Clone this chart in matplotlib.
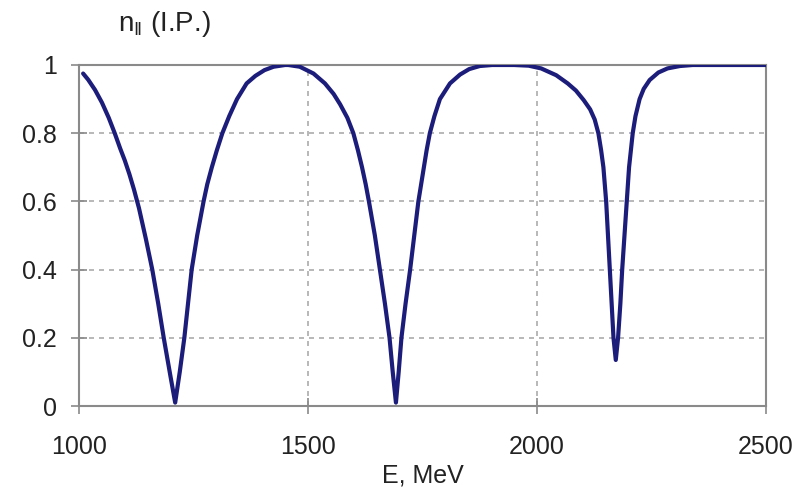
import matplotlib
matplotlib.use("Agg")
import matplotlib.pyplot as plt

plt.rcParams['font.family'] = ['Liberation Sans', 'DejaVu Sans']
plt.rcParams['mathtext.fontset'] = 'custom'
plt.rcParams['mathtext.rm'] = 'Liberation Sans'
plt.rcParams['mathtext.it'] = 'Liberation Sans'

energy = [1009, 1020, 1035, 1050, 1065, 1078, 1090, 1100, 1110, 1120, 1131,
          1146, 1160, 1173, 1185, 1200, 1210,
          1220, 1230, 1238, 1246, 1258, 1272, 1280, 1290, 1301, 1313, 1328,
          1345, 1366, 1385, 1405, 1425, 1450,
          1457, 1482, 1512, 1537, 1556, 1570, 1586, 1599, 1609, 1618, 1626,
          1633, 1646, 1657, 1668, 1678, 1685, 1692,
          1698, 1704, 1713, 1723, 1732, 1741, 1747, 1753, 1759, 1766, 1776,
          1788, 1810, 1832, 1852, 1875, 1902,
          1950, 1982, 2009, 2042, 2067, 2085, 2102, 2116, 2126, 2134, 2140,
          2145, 2148, 2151, 2155, 2159, 2163, 2167, 2172,
          2177, 2182, 2186, 2191, 2196, 2201, 2205, 2209, 2215, 2224, 2233,
          2246, 2265, 2285, 2312, 2340, 2500]
n_par = [0.975, 0.957, 0.927, 0.89, 0.845, 0.80, 0.755, 0.72, 0.68, 0.635, 0.58,
         0.49, 0.40, 0.30, 0.20, 0.085, 0.01,
         0.10, 0.20, 0.30, 0.40, 0.50, 0.60, 0.65, 0.70, 0.75, 0.80, 0.85,
         0.90, 0.946, 0.968, 0.985, 0.995, 1.0,
         1.0, 0.995, 0.975, 0.946, 0.915, 0.885, 0.845, 0.80, 0.75, 0.70, 0.65,
         0.60, 0.50, 0.40, 0.30, 0.20, 0.10, 0.01,
         0.10, 0.20, 0.30, 0.40, 0.50, 0.60, 0.65, 0.70, 0.75, 0.80, 0.85,
         0.90, 0.946, 0.972, 0.988, 0.997, 1.0,
         1.0, 0.998, 0.99, 0.97, 0.946, 0.925, 0.897, 0.87, 0.84, 0.80, 0.75,
         0.70, 0.65, 0.60, 0.50, 0.40, 0.30, 0.20, 0.135,
         0.20, 0.30, 0.40, 0.50, 0.60, 0.70, 0.75, 0.80, 0.85, 0.90, 0.93,
         0.956, 0.978, 0.99, 0.997, 1.0, 1.0]

x_ticks = [1000, 1500, 2000, 2500]
y_ticks = [0, 0.2, 0.4, 0.6, 0.8, 1]
y_labels = ['0', '0.2', '0.4', '0.6', '0.8', '1']

fig = plt.figure(figsize=(8.12, 4.94), dpi=100)
ax = fig.add_axes([79/812, 88/494, (766-79)/812, (406-65)/494])

ax.plot(energy, n_par, color='#1c1c7a', lw=3.0, solid_capstyle='round',
        solid_joinstyle='round', zorder=3)

ax.set_xlim(1000, 2500)
ax.set_ylim(0, 1)
ax.set_xticks(x_ticks)
ax.set_xticklabels([str(t) for t in x_ticks])
ax.set_yticks(y_ticks)
ax.set_yticklabels(y_labels)

ax.grid(True, color='#ababab', linestyle=(0, (3, 3)), linewidth=1.2, zorder=1)
for s in ax.spines.values():
    s.set_color('#8a8a8a')
    s.set_linewidth(1.5)

ax.tick_params(axis='both', direction='inout', length=12, width=1.2,
               color='#8a8a8a', labelsize=18, labelcolor='#222222')
ax.tick_params(axis='y', pad=10)
ax.tick_params(axis='x', pad=15)

ax.set_xlabel('E, MeV', fontsize=18, color='#222222', labelpad=3)
fig.text(164/812, 1 - 24/494, r'n$_{\Vert}$ (I.P.)', fontsize=20,
         color='#222222', ha='center', va='center')

fig.savefig('out.png', dpi=100, facecolor='white')
